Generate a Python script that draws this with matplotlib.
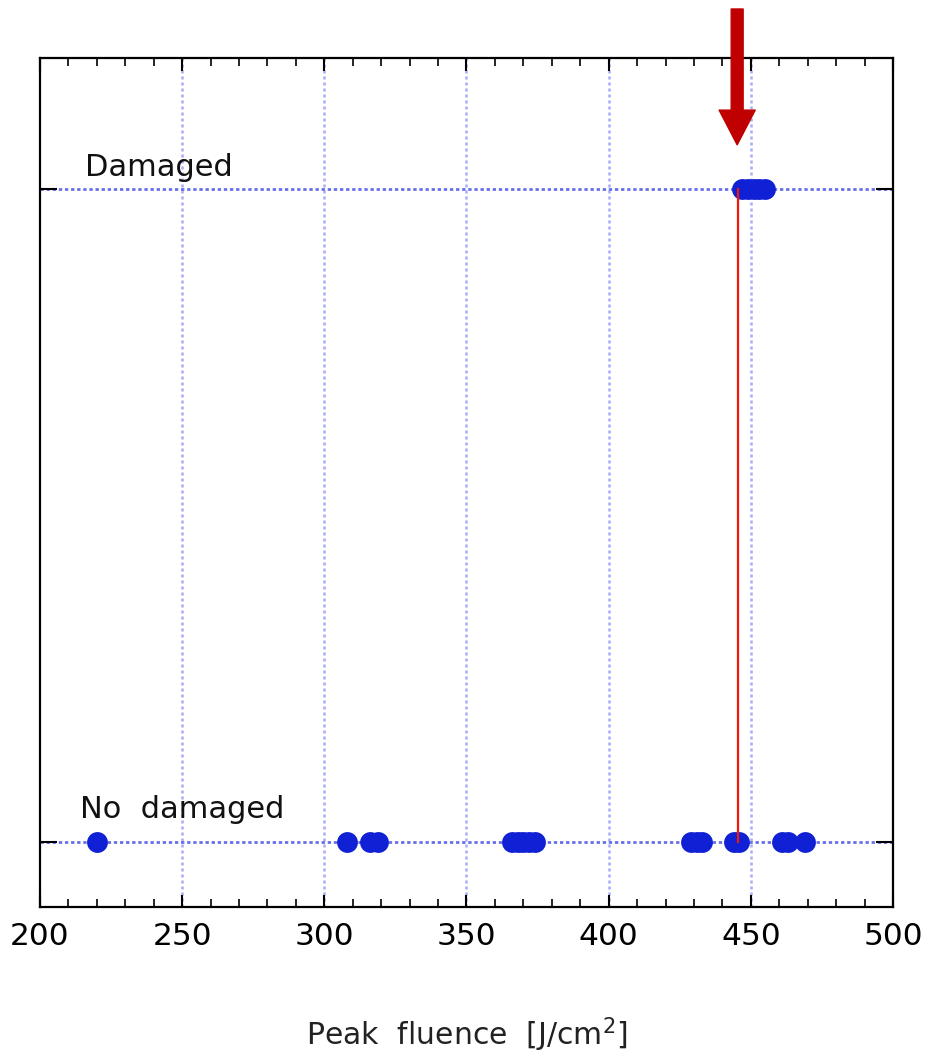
import matplotlib
matplotlib.use("Agg")
import matplotlib.pyplot as plt
from matplotlib.ticker import MultipleLocator

# Peak fluence of each shot [J/cm^2], split by outcome
no_damage = [220, 308, 316, 319, 366, 368, 370, 372, 374,
             429, 431, 433, 444, 446, 461, 463, 469]
damaged = [447, 449, 451, 453, 455]
threshold = 445.5
state_labels = ["No  damaged", "Damaged"]

fig = plt.figure(figsize=(9.3, 10.54), dpi=100)
ax = fig.add_axes([0.043, 0.1395, 0.9172, 0.8055])

# guide lines
for x in [250, 300, 350, 400, 450]:
    ax.axvline(x, color="#a8acf4", lw=1.8, ls=(0, (1.2, 1.2)), zorder=1)
for y in [0, 1]:
    ax.axhline(y, color="#6a70ea", lw=2.0, ls=(0, (1.2, 1.0)), zorder=1)

ax.plot(no_damage, [0] * len(no_damage), "o", color="#1020d4", ms=15, mew=0, zorder=3)
ax.plot(damaged, [1] * len(damaged), "o", color="#1020d4", ms=15, mew=0, zorder=3)
ax.plot([threshold, threshold], [0, 1], color="#f01808", lw=1.6, zorder=4)

ax.text(216, 1.02, state_labels[1], fontsize=22, va="baseline", color="#111111")
ax.text(214, 0.036, state_labels[0], fontsize=22, va="baseline", color="#111111")

# arrow marking the damage threshold
ax.annotate("", xy=(threshold - 0.3, 1.067), xytext=(threshold - 0.3, 1.275),
            xycoords="data", annotation_clip=False,
            arrowprops=dict(arrowstyle="simple,head_length=25,head_width=26,tail_width=8.6",
                            mutation_scale=1, color="#c00000", shrinkA=0, shrinkB=0))

ax.set_xlim(200, 500)
ax.set_ylim(-0.1, 1.2)
ax.xaxis.set_major_locator(MultipleLocator(50))
ax.xaxis.set_minor_locator(MultipleLocator(10))
ax.set_yticks([0, 1])
ax.set_yticklabels([])
ax.tick_params(axis="both", which="both", direction="in", top=True, right=True, color="black")
ax.tick_params(axis="x", which="major", length=9, width=1.5, labelsize=22.5, pad=11)
ax.tick_params(axis="x", which="minor", length=6, width=1.2)
ax.tick_params(axis="y", which="major", length=12, width=1.5)
for s in ax.spines.values():
    s.set_linewidth(1.6)

ax.set_xlabel("Peak  fluence  [J/cm$^2$]", fontsize=21.5, labelpad=46, color="#222222")

fig.savefig("out.png", dpi=100)
